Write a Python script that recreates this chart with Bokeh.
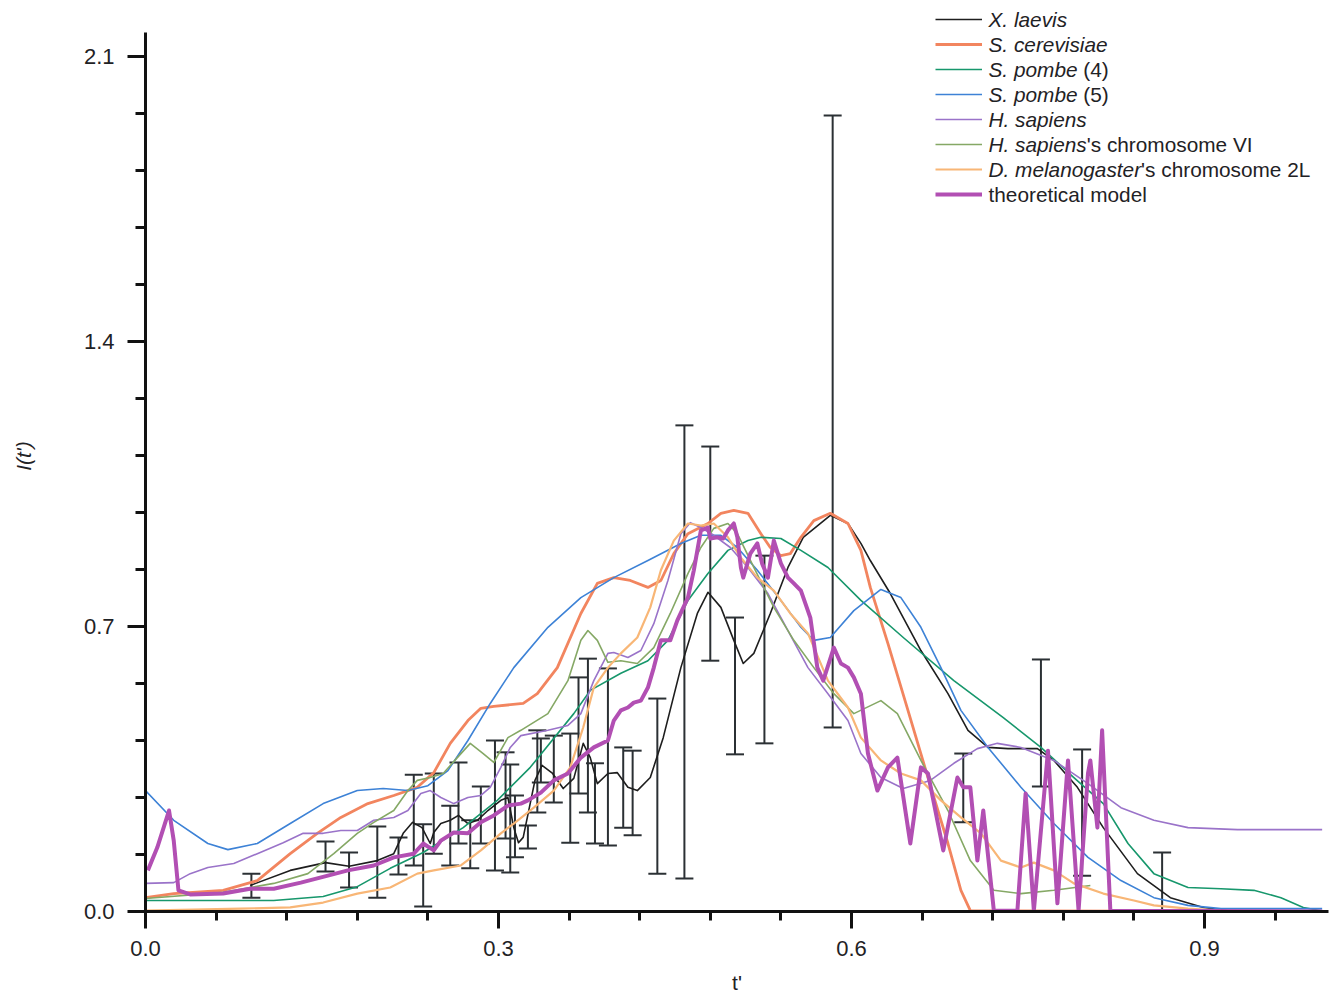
import numpy as np
from bokeh.plotting import figure
from bokeh.models import (ColumnDataSource, Whisker, TeeHead, FixedTicker, PrintfTickFormatter,
                          Legend, LegendItem, Label, Range1d)
from bokeh.core.properties import value
from bokeh.embed import file_html
from bokeh.resources import INLINE

# ---------------- data (t', I(t')) ----------------
xl_t = [0.089,0.123,0.153,0.173,0.197,0.211,0.219,0.227,0.235,0.242,0.245,0.251,0.259,0.266,0.274,0.282,
        0.291,0.302,0.308,0.313,0.317,0.321,0.331,0.337,0.346,0.355,0.364,0.372,0.378,0.384,0.393,0.401,
        0.410,0.418,0.429,0.440,0.455,0.469,0.478,0.489,0.500,0.508,0.517,0.531,0.546,0.559,0.582,0.597,
        0.608,0.616,0.633,0.659,0.682,0.699,0.716,0.733,0.758,0.772,0.792,0.814,0.843,0.871,0.899,0.925]
xl_i = [0.064,0.101,0.120,0.111,0.125,0.142,0.192,0.219,0.206,0.167,0.194,0.216,0.224,0.236,0.216,0.224,
        0.248,0.273,0.280,0.206,0.169,0.182,0.322,0.359,0.339,0.302,0.327,0.413,0.378,0.314,0.339,0.341,
        0.305,0.297,0.329,0.427,0.599,0.732,0.784,0.747,0.666,0.609,0.634,0.732,0.845,0.919,0.973,0.953,
        0.904,0.862,0.781,0.641,0.535,0.445,0.403,0.400,0.400,0.371,0.305,0.206,0.093,0.034,0.010,0.0]

sc_t = [0.0,0.024,0.066,0.095,0.123,0.146,0.166,0.189,0.211,0.231,0.245,0.259,0.274,0.285,0.296,0.321,
        0.333,0.350,0.370,0.384,0.398,0.412,0.427,0.438,0.449,0.461,0.478,0.489,0.500,0.512,0.523,0.531,
        0.540,0.548,0.557,0.568,0.582,0.597,0.608,0.616,0.631,0.648,0.665,0.682,0.693,0.701,1.0]
sc_i = [0.034,0.044,0.052,0.076,0.142,0.192,0.231,0.265,0.285,0.305,0.341,0.413,0.469,0.499,0.504,0.511,
        0.535,0.599,0.732,0.806,0.820,0.813,0.796,0.813,0.879,0.928,0.953,0.978,0.985,0.978,0.928,0.894,
        0.874,0.879,0.919,0.960,0.978,0.953,0.887,0.796,0.658,0.494,0.329,0.167,0.052,0.002,0.0]

sp4_t = [0.0,0.109,0.151,0.180,0.208,0.236,0.270,0.299,0.327,0.364,0.378,0.404,0.427,0.444,0.461,0.478,
         0.495,0.512,0.523,0.540,0.557,0.580,0.608,0.644,0.687,0.729,0.761,0.789,0.814,0.835,0.857,0.886,
         0.914,0.942,0.965,0.984,0.999]
sp4_i = [0.027,0.027,0.037,0.061,0.106,0.145,0.206,0.273,0.354,0.486,0.543,0.585,0.616,0.666,0.764,0.830,
         0.887,0.911,0.919,0.916,0.887,0.845,0.764,0.673,0.567,0.476,0.403,0.329,0.265,0.167,0.093,0.059,
         0.056,0.052,0.034,0.010,0.002]

sp5_t = [0.0,0.024,0.053,0.070,0.095,0.123,0.151,0.180,0.202,0.223,0.240,0.257,0.274,0.293,0.313,0.342,
         0.370,0.398,0.427,0.455,0.472,0.489,0.503,0.520,0.540,0.557,0.568,0.582,0.602,0.625,0.642,0.659,
         0.676,0.693,0.716,0.744,0.772,0.801,0.829,0.857,0.886,0.914,1.0]
sp5_i = [0.297,0.224,0.167,0.152,0.167,0.216,0.265,0.297,0.302,0.297,0.309,0.346,0.420,0.511,0.599,0.698,
         0.771,0.820,0.862,0.904,0.924,0.924,0.894,0.838,0.764,0.698,0.666,0.673,0.739,0.791,0.771,0.698,
         0.599,0.494,0.403,0.305,0.216,0.133,0.076,0.034,0.015,0.007,0.007]

hs_t = [0.0,0.024,0.038,0.053,0.075,0.095,0.117,0.134,0.151,0.166,0.180,0.194,0.211,0.223,0.234,0.242,
        0.251,0.262,0.274,0.285,0.293,0.302,0.310,0.319,0.342,0.359,0.370,0.381,0.393,0.398,0.410,0.421,
        0.432,0.444,0.455,0.463,0.472,0.483,0.497,0.512,0.529,0.546,0.563,0.580,0.597,0.608,0.625,0.644,
        0.667,0.687,0.707,0.724,0.744,0.772,0.801,0.829,0.857,0.886,0.928,1.0]
hs_i = [0.069,0.071,0.093,0.108,0.118,0.142,0.169,0.192,0.192,0.199,0.199,0.224,0.231,0.248,0.290,0.297,
        0.280,0.265,0.280,0.285,0.305,0.354,0.403,0.432,0.445,0.457,0.486,0.567,0.634,0.636,0.624,0.641,
        0.707,0.813,0.928,0.955,0.943,0.924,0.894,0.845,0.781,0.690,0.599,0.535,0.469,0.388,0.329,0.302,
        0.322,0.364,0.400,0.413,0.403,0.371,0.314,0.255,0.224,0.206,0.201,0.201]

h6_t = [0.0,0.066,0.109,0.138,0.160,0.180,0.194,0.211,0.223,0.231,0.242,0.253,0.265,0.276,0.287,0.296,
        0.308,0.319,0.342,0.359,0.370,0.376,0.384,0.393,0.404,0.418,0.432,0.446,0.461,0.472,0.483,0.495,
        0.503,0.517,0.534,0.551,0.568,0.585,0.602,0.625,0.639,0.659,0.682,0.701,0.721,0.744,0.772,0.803]
h6_i = [0.032,0.047,0.069,0.093,0.142,0.192,0.219,0.248,0.297,0.322,0.329,0.339,0.378,0.413,0.388,0.366,
        0.427,0.445,0.486,0.567,0.666,0.690,0.666,0.612,0.616,0.609,0.648,0.732,0.830,0.894,0.941,0.953,
        0.928,0.845,0.747,0.666,0.599,0.535,0.486,0.518,0.486,0.371,0.248,0.125,0.052,0.044,0.052,0.064]

dm_t = [0.0,0.081,0.123,0.151,0.180,0.208,0.231,0.245,0.268,0.285,0.302,0.313,0.330,0.347,0.361,0.372,
        0.381,0.393,0.404,0.418,0.429,0.438,0.449,0.461,0.472,0.483,0.495,0.506,0.520,0.534,0.548,0.563,
        0.580,0.597,0.608,0.625,0.642,0.659,0.676,0.693,0.710,0.727,0.744,0.755,0.772,0.789,0.814,0.840,
        0.857,0.886,0.914]
dm_i = [0.002,0.007,0.010,0.022,0.044,0.059,0.093,0.101,0.113,0.150,0.192,0.216,0.255,0.297,0.354,0.452,
        0.550,0.599,0.634,0.673,0.747,0.838,0.911,0.953,0.948,0.953,0.919,0.869,0.820,0.788,0.732,0.683,
        0.567,0.501,0.427,0.371,0.339,0.322,0.273,0.231,0.192,0.125,0.108,0.120,0.101,0.069,0.044,0.027,
        0.015,0.007,0.002]

th_t = [0.002,0.010,0.020,0.024,0.028,0.038,0.066,0.089,0.109,0.132,0.155,0.172,0.194,0.211,0.228,0.236,
        0.245,0.251,0.262,0.274,0.285,0.296,0.308,0.319,0.325,0.336,0.347,0.359,0.370,0.381,0.393,0.398,
        0.404,0.410,0.415,0.421,0.427,0.432,0.438,0.446,0.452,0.461,0.466,0.472,0.478,0.480,0.486,0.491,
        0.495,0.500,0.503,0.506,0.508,0.514,0.520,0.524,0.529,0.534,0.540,0.546,0.551,0.557,0.565,0.571,
        0.576,0.585,0.591,0.597,0.602,0.608,0.614,0.622,0.631,0.639,0.650,0.659,0.665,0.678,0.690,0.695,
        0.701,0.707,0.712,0.721,0.741,0.748,0.755,0.767,0.775,0.784,0.793,0.801,0.803,0.809,0.813,0.820,1.0]
th_i = [0.101,0.157,0.248,0.174,0.052,0.042,0.044,0.056,0.056,0.071,0.088,0.101,0.113,0.133,0.142,0.167,
        0.150,0.174,0.194,0.192,0.219,0.236,0.260,0.265,0.273,0.292,0.322,0.339,0.378,0.403,0.420,0.469,
        0.494,0.501,0.513,0.518,0.550,0.599,0.666,0.666,0.715,0.771,0.838,0.936,0.943,0.916,0.919,0.916,
        0.936,0.953,0.919,0.845,0.820,0.879,0.904,0.855,0.820,0.911,0.855,0.820,0.806,0.788,0.722,0.599,
        0.567,0.648,0.609,0.599,0.575,0.535,0.388,0.297,0.354,0.378,0.167,0.354,0.339,0.150,0.329,0.305,
        0.305,0.125,0.248,0.002,0.002,0.290,0.002,0.395,0.020,0.371,0.002,0.339,0.371,0.206,0.445,0.002,0.0]

# error bars (X. laevis)
eb_t = [0.090,0.153,0.173,0.197,0.215,0.228,0.236,0.245,0.259,0.266,0.276,0.285,0.297,0.306,0.310,0.314,
        0.325,0.333,0.336,0.347,0.361,0.368,0.376,0.382,0.393,0.406,0.414,0.435,0.458,0.480,0.501,0.526,
        0.584,0.695,0.761,0.796,0.864]
eb_top = [0.093,0.172,0.145,0.209,0.182,0.336,0.214,0.339,0.260,0.366,0.224,0.307,0.420,0.391,0.361,0.285,
          0.211,0.445,0.425,0.432,0.437,0.575,0.621,0.364,0.597,0.403,0.395,0.523,1.194,1.142,0.722,0.874,
          1.955,0.388,0.619,0.398,0.145]
eb_bot = [0.034,0.098,0.059,0.034,0.091,0.113,0.012,0.142,0.113,0.167,0.106,0.167,0.101,0.179,0.096,0.133,
          0.155,0.243,0.317,0.268,0.169,0.290,0.243,0.167,0.162,0.206,0.187,0.093,0.081,0.616,0.386,0.413,
          0.452,0.219,0.307,0.088,0.002]

x_major = [0.0, 0.3, 0.6, 0.9]
y_major = [0.0, 0.7, 1.4, 2.1]

# legend entries: (italic part, upright part)
legend_text = [("X. laevis", ""), ("S. cerevisiae", ""), ("S. pombe", " (4)"), ("S. pombe", " (5)"),
               ("H. sapiens", ""), ("H. sapiens", "'s chromosome VI"),
               ("D. melanogaster", "'s chromosome 2L"), ("", "theoretical model")]

# ---------------- styles ----------------
series = [
    (xl_t, xl_i, "#1e1e1e", 1.6),
    (sc_t, sc_i, "#f2855f", 2.8),
    (sp4_t, sp4_i, "#17976c", 1.6),
    (sp5_t, sp5_i, "#3d82d6", 1.6),
    (hs_t, hs_i, "#9a73c9", 1.6),
    (h6_t, h6_i, "#85a865", 1.6),
    (dm_t, dm_i, "#f8b676", 2.2),
    (th_t, th_i, "#b24fb3", 4.0),
]

FONT = "Liberation Sans"
TXT = "#1f2225"

p = figure(width=1330, height=1003, x_range=Range1d(0, 1.0054), y_range=Range1d(0, 2.2375),
           output_backend="svg", toolbar_location=None,
           min_border_left=145, min_border_right=2, min_border_top=0, min_border_bottom=92,
           background_fill_color="white", border_fill_color="white")
p.outline_line_color = None
p.xgrid.visible = False
p.ygrid.visible = False

renderers = []
for t, v, c, w in series:
    r = p.line(t, v, line_color=c, line_width=w, line_join="round")
    renderers.append(r)

src = ColumnDataSource(dict(t=eb_t, top=eb_top, bot=eb_bot))
ebc = "#2b3034"
p.add_layout(Whisker(base="t", upper="top", lower="bot", source=src, line_color=ebc, line_width=2,
                     upper_head=TeeHead(size=18, line_color=ebc, line_width=2),
                     lower_head=TeeHead(size=18, line_color=ebc, line_width=2)))

# axes
p.xaxis.ticker = FixedTicker(ticks=x_major, minor_ticks=list(np.round(np.arange(0.0, 1.0, 0.06), 3)))
p.yaxis.ticker = FixedTicker(ticks=y_major, minor_ticks=list(np.round(np.arange(0.0, 2.11, 0.14), 3)))
for ax in (p.xaxis[0], p.yaxis[0]):
    ax.formatter = PrintfTickFormatter(format="%.1f")
    ax.axis_line_width = 3
    ax.axis_line_color = "#111111"
    ax.major_tick_line_width = 3
    ax.minor_tick_line_width = 3
    ax.major_tick_line_color = "#111111"
    ax.minor_tick_line_color = "#111111"
    ax.major_tick_in = 0
    ax.minor_tick_in = 0
    ax.major_label_text_font = FONT
    ax.major_label_text_font_size = "22px"
    ax.major_label_text_color = TXT
    ax.axis_label_text_font = FONT
    ax.axis_label_text_font_size = "21px"
    ax.axis_label_text_color = TXT

p.yaxis.bounds = (0, 2.159)

p.xaxis.major_tick_out = 17
p.xaxis.minor_tick_out = 9
p.xaxis.major_label_standoff = 12
p.xaxis.axis_label = "t'"
p.xaxis.axis_label_standoff = 12
p.xaxis.axis_label_text_font_style = "normal"

p.yaxis.major_tick_out = 18
p.yaxis.minor_tick_out = 10
p.yaxis.major_label_standoff = 13
p.yaxis.axis_label = "I(t')"
p.yaxis.axis_label_standoff = 46
p.yaxis.axis_label_text_font_style = "italic"

# legend swatches (glyphs only) + mixed-style text labels
row_h = 25
row0 = 892          # centre of first legend row, px above the frame bottom
items = [LegendItem(label=value(" "), renderers=[r]) for r in renderers]
leg = Legend(items=items, location=(790, row0 + 10 - (8 * 20 + 7 * 5)), glyph_width=47, glyph_height=20,
             label_height=20, spacing=5, padding=0, margin=0, label_standoff=6, label_text_font_size="1px",
             background_fill_alpha=0, border_line_color=None)
p.add_layout(leg)

# Arial / Liberation Sans advance widths (per 1000 em)
W = {"S": 667, "H": 722, "D": 722, ".": 278, " ": 278, "p": 556, "o": 556, "m": 833, "b": 556, "e": 556,
     "s": 500, "a": 556, "i": 222, "n": 556, "l": 222, "g": 556, "t": 278, "r": 333}
FS = 20.8
for k, (it, up) in enumerate(legend_text):
    yy = row0 - row_h * k
    x0 = 843
    if it:
        p.add_layout(Label(x=x0, y=yy, x_units="screen", y_units="screen", text=it,
                           text_font=FONT, text_font_size=f"{FS}px", text_font_style="italic",
                           text_color=TXT, text_baseline="middle", text_align="left"))
        x0 += sum(W.get(ch, 556) for ch in it) / 1000.0 * FS
    if up:
        lead = len(up) - len(up.lstrip(" "))
        x0 += lead * W[" "] / 1000.0 * FS
        p.add_layout(Label(x=x0, y=yy, x_units="screen", y_units="screen", text=up.lstrip(" "),
                           text_font=FONT, text_font_size=f"{FS}px", text_font_style="normal",
                           text_color=TXT, text_baseline="middle", text_align="left"))

open("out.html", "w").write(file_html(p, INLINE))
